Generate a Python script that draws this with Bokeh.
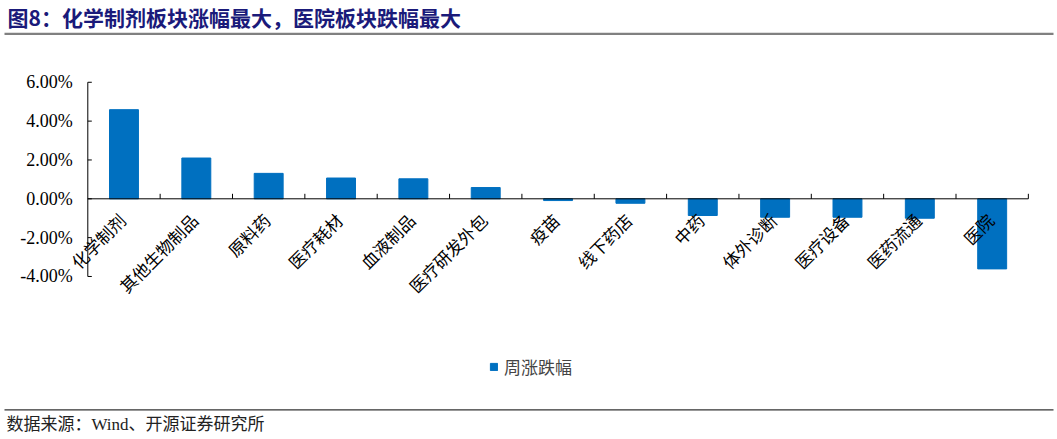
import math
from bokeh.plotting import figure
from bokeh.models import (Range1d, Label, ColumnDataSource, Legend, LegendItem, BoxAnnotation)
from bokeh.core.properties import value
from bokeh.embed import file_html
from bokeh.resources import INLINE

categories = ["化学制剂", "其他生物制品", "原料药", "医疗耗材", "血液制品", "医疗研发外包",
              "疫苗", "线下药店", "中药", "体外诊断", "医疗设备", "医药流通", "医院"]
weekly_change = [4.59, 2.10, 1.31, 1.07, 1.03, 0.58, -0.09, -0.23, -0.86, -0.95, -0.95, -1.00, -3.61]
y_ticks = [-4, -2, 0, 2, 4, 6]
series_name = "周涨跌幅"
title_text = "图8：化学制剂板块涨幅最大，医院板块跌幅最大"
source_text = "数据来源：Wind、开源证券研究所"

# ---- layout (pixels) ----
W, H = 1057, 439
AX_LEFT_PX = 87.3      # y axis position
CAT_PX = 72.35         # width of one category
ZERO_PX = 198.3        # pixel row of 0%
PCT_PX = 19.42         # pixels per 1%
BLUE = "#0070C0"
n = len(categories)

x0 = -AX_LEFT_PX / CAT_PX
x1 = (W - AX_LEFT_PX) / CAT_PX
y_top = ZERO_PX / PCT_PX
y_bot = -(H - ZERO_PX) / PCT_PX

p = figure(width=W, height=H, output_backend="svg", toolbar_location=None,
           x_range=Range1d(x0, x1), y_range=Range1d(y_bot, y_top),
           x_axis_location=None, y_axis_location=None,
           min_border=0, min_border_left=0, min_border_right=0,
           min_border_top=0, min_border_bottom=0)
p.outline_line_color = None
p.grid.visible = False
p.background_fill_color = "white"
p.border_fill_color = "white"

centers = [i + 0.5 for i in range(n)]
src = ColumnDataSource(dict(x=centers, top=weekly_change, cat=categories))
bars = p.vbar(x="x", top="top", width=0.4, source=src, fill_color=BLUE, line_color=BLUE)

# ---- category axis along 0% ----
p.segment(x0=[0], y0=[0], x1=[n], y1=[0], line_color="black", line_width=1)
bounds = list(range(1, n + 1))
p.segment(x0=bounds, y0=[0] * n, x1=bounds, y1=[5 / PCT_PX] * n, line_color="black", line_width=1)
p.text(x="x", y=0, text="cat", source=src, angle=math.pi / 4,
       text_align="right", text_baseline="middle", x_offset=-2, y_offset=18,
       text_font=value("Noto Sans CJK SC"), text_font_size=value("17px"), text_color="black")

# ---- value axis ----
p.segment(x0=[0], y0=[min(y_ticks)], x1=[0], y1=[max(y_ticks)], line_color="black", line_width=1)
tick_len = 4 / CAT_PX
p.segment(x0=[0] * len(y_ticks), y0=y_ticks, x1=[tick_len] * len(y_ticks), y1=y_ticks,
          line_color="black", line_width=1)
tick_labels = [f"{t:.2f}%" for t in y_ticks]
p.text(x=[0] * len(y_ticks), y=y_ticks, text=tick_labels, x_offset=-15,
       text_align="right", text_baseline="middle",
       text_font=value("Liberation Serif"), text_font_size=value("18px"), text_color="black")

# ---- legend ----
legend = Legend(items=[LegendItem(label=series_name, renderers=[bars])],
                location=(489, 60), orientation="horizontal",
                label_text_font="Noto Sans CJK SC", label_text_font_size="17px",
                glyph_width=9, glyph_height=9, label_standoff=6,
                padding=0, margin=0, border_line_color=None, background_fill_alpha=0)
p.add_layout(legend, "center")

# ---- title and footer ----
p.add_layout(Label(x=7, y=H - 16, x_units="screen", y_units="screen", text=title_text,
                   text_baseline="middle",
                   text_font="Noto Sans CJK SC", text_font_size="21px",
                   text_font_style="bold", text_color="#1a1a7a"))
p.add_layout(BoxAnnotation(left=4, right=1053, bottom=H - 34.5, top=H - 32.3,
                           left_units="screen", right_units="screen",
                           bottom_units="screen", top_units="screen",
                           fill_color="#808080", fill_alpha=1, line_color=None))
p.add_layout(BoxAnnotation(left=4, right=1053, bottom=H - 410, top=H - 408.8,
                           left_units="screen", right_units="screen",
                           bottom_units="screen", top_units="screen",
                           fill_color="#333333", fill_alpha=1, line_color=None))
p.add_layout(Label(x=6, y=H - 424, x_units="screen", y_units="screen", text=source_text,
                   text_baseline="middle",
                   text_font="Liberation Serif, Noto Sans CJK SC", text_font_size="17px",
                   text_color="#222222"))

open("out.html", "w").write(file_html(p, INLINE))
